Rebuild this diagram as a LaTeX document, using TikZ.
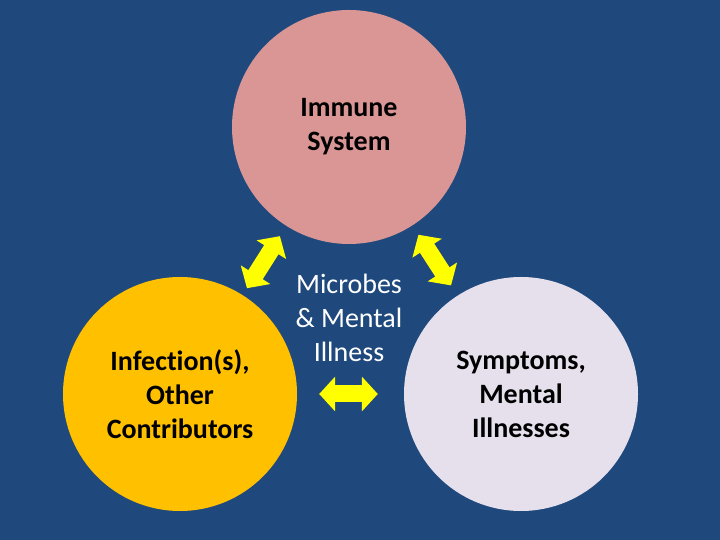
\documentclass[tikz,border=0pt]{standalone}
\usepackage{fontspec}
\setmainfont{Carlito}[Ligatures=NoCommon]
\usepackage{tikz}
\usetikzlibrary{arrows.meta}

\definecolor{bgblue}{HTML}{1F497D}
\definecolor{immunepink}{HTML}{D99694}
\definecolor{infectgold}{HTML}{FFC000}
\definecolor{symptlilac}{HTML}{E6E0EC}
\definecolor{arrowyellow}{HTML}{FFFF00}

\begin{document}
\begin{tikzpicture}[
  x=1pt, y=1pt,
  bubble/.style={circle, draw=none, inner sep=0pt, minimum size=234pt, align=center,
    font=\fontsize{28}{34}\selectfont\bfseries, text=black},
  dblarrow/.style={{Triangle[width=34pt, length=16pt]}-{Triangle[width=34pt, length=16pt]},
    line width=17pt, draw=arrowyellow, fill=arrowyellow}
]

\fill[bgblue] (0,0) rectangle (720,540);
\useasboundingbox (0,0) rectangle (720,540);

\node[bubble, fill=immunepink] (immune) at (349,413) {Immune\\System};
\node[bubble, fill=infectgold] (infect) at (180,146) {Infection(s),\\Other\\Contributors};
\node[bubble, fill=symptlilac] (sympt) at (521,146) {Symptoms,\\Mental\\Illnesses};

\node[align=center, text=white, font=\fontsize{28}{34}\selectfont] (title) at (349,222) {Microbes\\\& Mental\\Illness};

\draw[dblarrow, shorten <=12pt, shorten >=8pt] (immune) -- (infect);
\draw[dblarrow, shorten <=11pt, shorten >=12pt] (immune) -- (sympt);
\draw[dblarrow, shorten <=22pt, shorten >=26pt] (infect) -- (sympt);

\end{tikzpicture}
\end{document}
